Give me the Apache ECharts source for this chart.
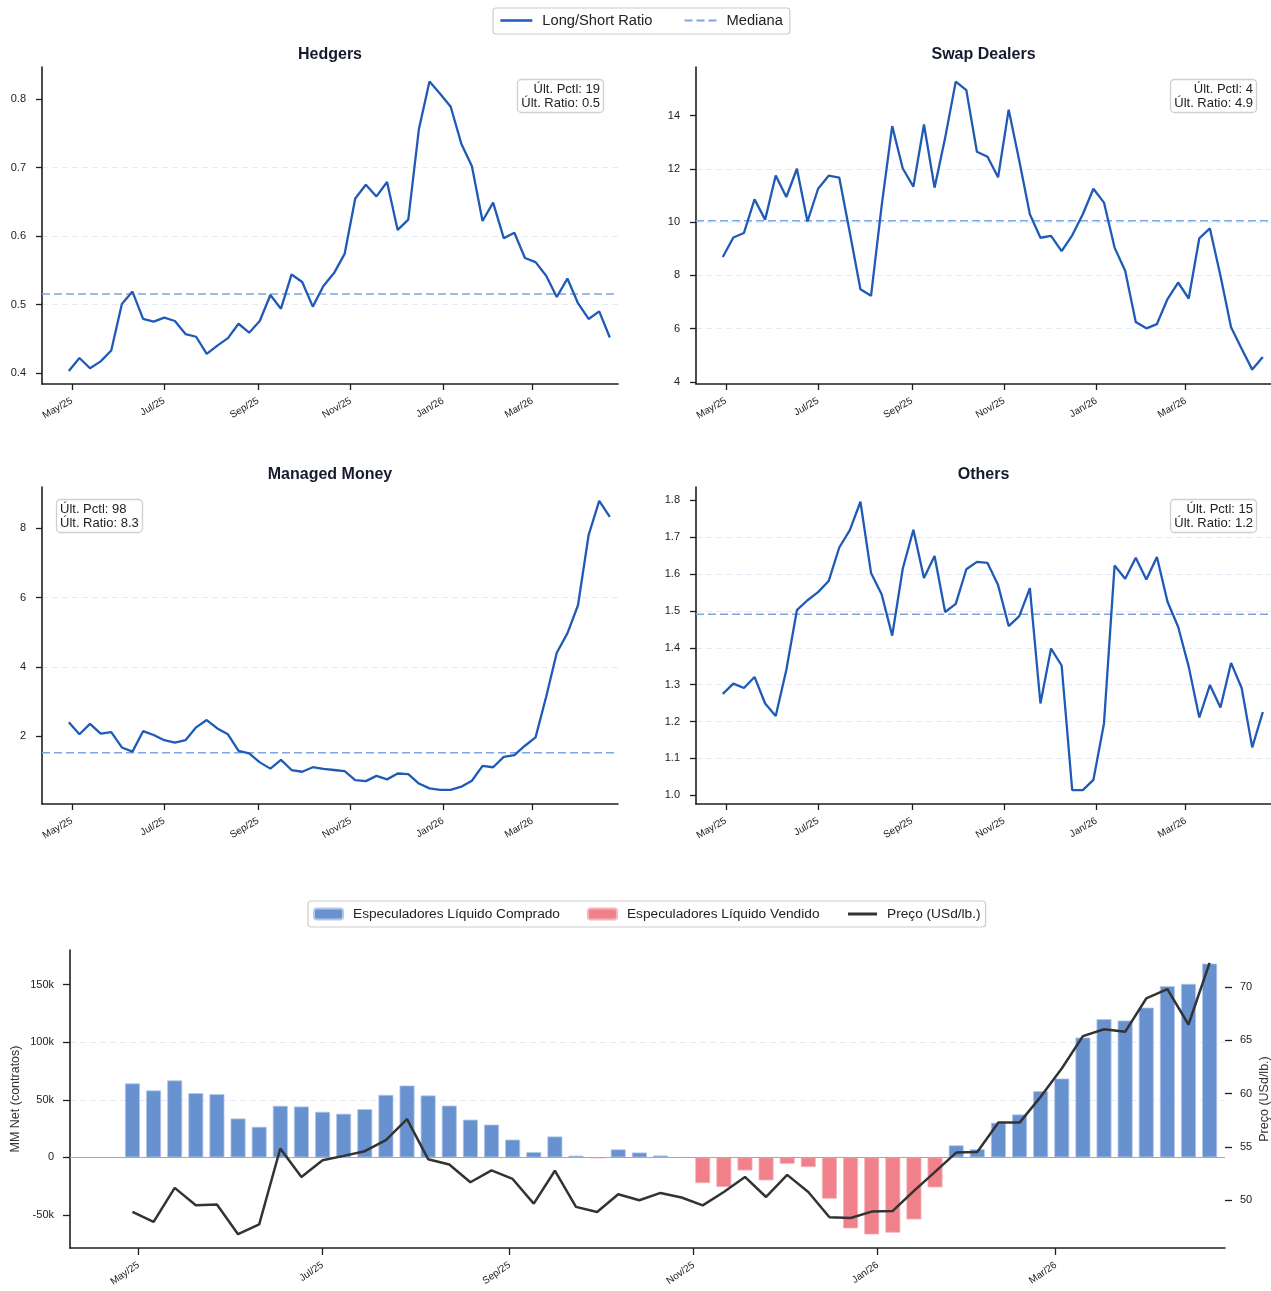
<!DOCTYPE html>
<html>
<head>
<meta charset="utf-8">
<script src="https://cdn.jsdelivr.net/npm/echarts@6/dist/echarts.min.js"></script>
<style>
html,body{margin:0;padding:0;background:#fff;}
#chart{width:1271px;height:1291px;}
</style>
</head>
<body>
<div id="chart"></div>
<script>
// ---------------- DATA ----------------
const dates = ['2025-04-29','2025-05-06','2025-05-13','2025-05-20','2025-05-27','2025-06-03','2025-06-10','2025-06-17','2025-06-24','2025-07-01','2025-07-08','2025-07-15','2025-07-22','2025-07-29','2025-08-05','2025-08-12','2025-08-19','2025-08-26','2025-09-02','2025-09-09','2025-09-16','2025-09-23','2025-09-30','2025-10-07','2025-10-14','2025-10-21','2025-10-28','2025-11-04','2025-11-11','2025-11-18','2025-11-25','2025-12-02','2025-12-09','2025-12-16','2025-12-23','2025-12-30','2026-01-06','2026-01-13','2026-01-20','2026-01-27','2026-02-03','2026-02-10','2026-02-17','2026-02-24','2026-03-03','2026-03-10','2026-03-17','2026-03-24','2026-03-31','2026-04-07','2026-04-14','2026-04-21'];

const hedgers = [0.403,0.422,0.407,0.417,0.433,0.501,0.519,0.479,0.475,0.481,0.476,0.457,0.453,0.428,0.440,0.451,0.472,0.459,0.476,0.514,0.494,0.544,0.533,0.497,0.527,0.546,0.574,0.655,0.675,0.658,0.679,0.609,0.624,0.756,0.826,0.808,0.789,0.735,0.702,0.622,0.649,0.597,0.605,0.568,0.562,0.542,0.511,0.538,0.502,0.479,0.490,0.452];
const swapDealers = [8.69,9.42,9.59,10.85,10.09,11.75,10.94,12.0,10.02,11.25,11.74,11.67,9.6,7.48,7.23,10.6,13.6,12.01,11.33,13.66,11.29,13.16,15.27,14.95,12.64,12.45,11.68,14.22,12.3,10.29,9.41,9.48,8.91,9.5,10.29,11.25,10.73,9.04,8.17,6.25,6.01,6.17,7.11,7.73,7.13,9.39,9.76,7.98,6.05,5.24,4.46,4.93];
const managedMoney = [2.41,2.06,2.36,2.08,2.12,1.68,1.56,2.15,2.04,1.89,1.82,1.89,2.26,2.47,2.23,2.06,1.58,1.51,1.25,1.07,1.32,1.03,0.98,1.11,1.06,1.03,1.0,0.74,0.71,0.86,0.76,0.93,0.91,0.64,0.50,0.46,0.46,0.55,0.72,1.15,1.11,1.41,1.46,1.73,1.97,3.14,4.41,4.97,5.78,7.80,8.79,8.33];
const others = [1.275,1.303,1.291,1.321,1.249,1.215,1.34,1.502,1.529,1.551,1.581,1.672,1.719,1.796,1.603,1.545,1.433,1.615,1.72,1.589,1.649,1.497,1.519,1.613,1.633,1.63,1.57,1.459,1.486,1.562,1.249,1.398,1.352,1.014,1.014,1.042,1.195,1.623,1.587,1.644,1.585,1.646,1.525,1.457,1.349,1.211,1.299,1.238,1.359,1.291,1.13,1.226];

const panelNames = ['Hedgers','Swap Dealers','Managed Money','Others'];
const medians = [0.5155, 10.05, 1.53, 1.491];
const lastPctl = [19, 4, 98, 15];

const mmNet = [64200,58100,66800,55800,54900,33800,26600,44800,44200,39600,37900,41900,54300,62400,53800,45000,32800,28500,15500,4600,18200,1600,-600,7000,4300,1700,0,-22300,-25700,-11300,-19900,-5500,-8400,-35800,-61600,-66800,-65300,-53800,-26000,10500,7200,30100,37300,57500,68500,104000,120000,118800,130000,148600,150600,168200];
const price = [48.91,47.97,51.16,49.53,49.6,46.82,47.75,54.85,52.19,53.75,54.16,54.6,55.63,57.6,53.85,53.35,51.69,52.81,52.0,49.69,52.77,49.38,48.9,50.56,50.0,50.69,50.26,49.52,50.78,52.19,50.31,52.38,50.78,48.41,48.34,48.94,49.0,50.88,52.66,54.47,54.53,57.28,57.28,59.69,62.35,65.38,66.03,65.78,68.91,69.78,66.47,72.25];

const xTickDates = ['2025-05-01','2025-07-01','2025-09-01','2025-11-01','2026-01-01','2026-03-01'];
const xTickLabels = ['May/25','Jul/25','Sep/25','Nov/25','Jan/26','Mar/26'];

const yTicksPanels = [
  [0.4,0.5,0.6,0.7,0.8],
  [4,6,8,10,12,14],
  [2,4,6,8],
  [1.0,1.1,1.2,1.3,1.4,1.5,1.6,1.7,1.8]
];
const yTickDecimals = [1,0,0,1];
const yRangesPanels = [[0.384,0.847],[3.92,15.82],[0.05,9.19],[0.9765,1.836]];
const yStepPanels = [0.1,2,2,0.1];

const netTicks = [-50000,0,50000,100000,150000];
const netRange = [-78550,179950];
const priceTicks = [50,55,60,65,70];
const priceRange = [45.53,73.45];

// ---------------- HELPERS ----------------
function ts(s){const p=s.split('-');return Date.UTC(+p[0],+p[1]-1,+p[2]);}
const DAY = 86400000;
const xTickTs = xTickDates.map(ts);
function fmtX(v){const i=xTickTs.indexOf(v);return i>=0?xTickLabels[i]:'';}
const topXMin = ts('2025-04-11')+0.3*DAY, topXMax = ts('2026-04-26')+0.4*DAY;
const botXMin = ts('2025-04-08')+0.3*DAY, botXMax = ts('2026-04-26')+0.1*DAY;

const FONT = '"Liberation Sans", Arial, Helvetica, sans-serif';
const DARK = '#1f1f1f';
const TXT = '#222222';
const LINE_BLUE = '#1f5bb6';
const MED_BLUE = '#7fa4e2';
const GRID_C = '#e2ebf8';

const series = [hedgers, swapDealers, managedMoney, others];

const gridBase = {containLabel:false, outerBoundsMode:'none'};
const grids = [
  {left:42, top:67, width:576, height:317},
  {left:696, top:67, width:575, height:317},
  {left:42, top:487, width:576, height:317},
  {left:696, top:487, width:575, height:317},
  {left:70, top:950, width:1155, height:298}
].map(g=>Object.assign({}, gridBase, g));

const xAxes = [], yAxes = [], seriesList = [];
for (let k=0;k<4;k++){
  xAxes.push({
    type:'value', gridIndex:k, min:topXMin, max:topXMax, scale:true,
    axisLine:{show:true, onZero:false, lineStyle:{color:DARK, width:1.6}},
    axisTick:{show:true, customValues:xTickTs, length:6, lineStyle:{color:DARK, width:1.3}},
    axisLabel:{customValues:xTickTs, formatter:fmtX, rotate:30, fontSize:10, color:TXT, margin:16, fontFamily:FONT, hideOverlap:false},
    splitLine:{show:false}
  });
  const dec = yTickDecimals[k];
  yAxes.push({
    type:'value', gridIndex:k, min:yRangesPanels[k][0], max:yRangesPanels[k][1],
    minInterval:yStepPanels[k], maxInterval:yStepPanels[k],
    axisLine:{show:true, onZero:false, lineStyle:{color:DARK, width:1.6}},
    axisTick:{show:true, customValues:yTicksPanels[k], length:6, lineStyle:{color:DARK, width:1.3}},
    axisLabel:{customValues:yTicksPanels[k], formatter:v=>(+v).toFixed(dec), fontSize:11, color:TXT, margin:16, fontFamily:FONT},
    splitLine:{show:true, showMinLine:false, showMaxLine:false, lineStyle:{color:GRID_C, type:[6,4], width:1}}
  });
  const vals = series[k];
  seriesList.push({
    name:'Long/Short Ratio', type:'line', xAxisIndex:k, yAxisIndex:k,
    data: dates.map((d,i)=>[ts(d), vals[i]]),
    symbol:'none', showSymbol:false, lineStyle:{color:LINE_BLUE, width:2.3}, itemStyle:{color:LINE_BLUE}, z:4
  });
  seriesList.push({
    name:'Mediana', type:'line', xAxisIndex:k, yAxisIndex:k,
    data:[[topXMin, medians[k]],[topXMax, medians[k]]],
    symbol:'none', showSymbol:false, lineStyle:{color:MED_BLUE, width:1.5, type:[8,4]}, itemStyle:{color:MED_BLUE}, z:3
  });
}
// bottom chart axes
xAxes.push({
  type:'value', gridIndex:4, min:botXMin, max:botXMax, scale:true,
  axisLine:{show:true, onZero:false, lineStyle:{color:DARK, width:1.6}},
  axisTick:{show:true, customValues:xTickTs, length:7, lineStyle:{color:DARK, width:1.3}},
  axisLabel:{customValues:xTickTs, formatter:fmtX, rotate:35, fontSize:10, color:TXT, margin:16, fontFamily:FONT, hideOverlap:false},
  splitLine:{show:false}
});
yAxes.push({
  type:'value', gridIndex:4, min:netRange[0], max:netRange[1], minInterval:50000, maxInterval:50000,
  name:'MM Net (contratos)', nameLocation:'middle', nameGap:48, nameMoveOverlap:false,
  nameTextStyle:{fontSize:12.5, color:'#333', fontFamily:FONT},
  axisLine:{show:true, onZero:false, lineStyle:{color:DARK, width:1.6}},
  axisTick:{show:true, customValues:netTicks, length:7, lineStyle:{color:DARK, width:1.3}},
  axisLabel:{customValues:netTicks, formatter:v=>v===0?'0':(v/1000)+'k', fontSize:11, color:TXT, margin:16, fontFamily:FONT},
  splitLine:{show:true, showMinLine:false, showMaxLine:false, lineStyle:{color:GRID_C, type:[6,4], width:1}}
});
yAxes.push({
  type:'value', gridIndex:4, position:'right', min:priceRange[0], max:priceRange[1], minInterval:5, maxInterval:5,
  name:'Preço (USd/lb.)', nameLocation:'middle', nameGap:33, nameMoveOverlap:false,
  nameTextStyle:{fontSize:12.5, color:'#333', fontFamily:FONT},
  axisLine:{show:false, onZero:false},
  axisTick:{show:true, customValues:priceTicks, length:7, lineStyle:{color:DARK, width:1.3}},
  axisLabel:{customValues:priceTicks, fontSize:11, color:TXT, margin:15, fontFamily:FONT},
  splitLine:{show:false}
});

const BAR_BLUE = '#6891cf', BAR_RED = '#f0808a';
seriesList.push({
  name:'Especuladores Líquido Comprado', type:'bar', xAxisIndex:4, yAxisIndex:4,
  data: dates.map((d,i)=>mmNet[i]>=0?[ts(d), mmNet[i]]:null).filter(Boolean),
  barWidth:15, barGap:'-100%',
  itemStyle:{color:BAR_BLUE, borderColor:'#b3c8ea', borderWidth:0.8},
  markLine:{silent:true, symbol:['none','none'], label:{show:false}, lineStyle:{color:'#a8a8a8', type:'solid', width:1.2}, data:[{yAxis:0}]},
  z:2
});
seriesList.push({
  name:'Especuladores Líquido Vendido', type:'bar', xAxisIndex:4, yAxisIndex:4,
  data: dates.map((d,i)=>mmNet[i]<0?[ts(d), mmNet[i]]:null).filter(Boolean),
  barWidth:15, barGap:'-100%',
  itemStyle:{color:BAR_RED, borderColor:'#f6b5ba', borderWidth:0.8},
  z:2
});
seriesList.push({
  name:'Preço (USd/lb.)', type:'line', xAxisIndex:4, yAxisIndex:5,
  data: dates.map((d,i)=>[ts(d), price[i]]),
  symbol:'none', showSymbol:false, lineStyle:{color:'#333333', width:2.5}, itemStyle:{color:'#333333'}, z:5
});

// titles
const titleCenters = [[330,47],[983.5,47],[330,467],[983.5,467]];
const titles = panelNames.map((n,k)=>({
  text:n, left:titleCenters[k][0], top:titleCenters[k][1], textAlign:'center', padding:0,
  textStyle:{fontSize:16, fontWeight:'bold', color:'#161a2e', fontFamily:FONT}
}));
const boxPos = [[596,79,'right'],[1249,79,'right'],[56,499,'left'],[1249,499,'right']];
panelNames.forEach((n,k)=>{
  const last = series[k][series[k].length-1];
  titles.push({
    text:'Últ. Pctl: '+lastPctl[k]+'\nÚlt. Ratio: '+last.toFixed(1),
    left:boxPos[k][0], top:boxPos[k][1], textAlign:boxPos[k][2], padding:[3,4],
    backgroundColor:'rgba(255,255,255,0.9)', borderColor:'#cfcfcf', borderWidth:1.3, borderRadius:4,
    textStyle:{fontSize:13, fontWeight:'normal', color:'#222', lineHeight:14, fontFamily:FONT}
  });
});

const legendCommon = {
  orient:'horizontal', backgroundColor:'#fff', borderColor:'#cccccc', borderWidth:1.2, borderRadius:3,
  selectedMode:false
};
const hideSym = {opacity:0};

const option = {
  animation:false,
  backgroundColor:'#ffffff',
  textStyle:{fontFamily:FONT},
  title:titles,
  legend:[
    Object.assign({}, legendCommon, {
      data:[{name:'Long/Short Ratio', itemStyle:hideSym, lineStyle:{width:2.6}}, {name:'Mediana', itemStyle:hideSym}],
      left:493, top:8, padding:[5,7,6,6], itemWidth:32, itemHeight:12, itemGap:31,
      textStyle:{fontSize:14.7, color:'#222', fontFamily:FONT, padding:[0,0,0,5]}
    }),
    Object.assign({}, legendCommon, {
      data:['Especuladores Líquido Comprado','Especuladores Líquido Vendido',{name:'Preço (USd/lb.)', itemStyle:hideSym, lineStyle:{width:3}}],
      left:308, top:901, padding:[6,5,6,5], itemWidth:29, itemHeight:11, itemGap:27,
      textStyle:{fontSize:13.7, color:'#222', fontFamily:FONT, padding:[0,0,0,5]}
    })
  ],
  grid:grids,
  xAxis:xAxes,
  yAxis:yAxes,
  series:seriesList
};

const chart = echarts.init(document.getElementById('chart'), null, {renderer:'canvas'});
chart.setOption(option);
</script>
</body>
</html>
